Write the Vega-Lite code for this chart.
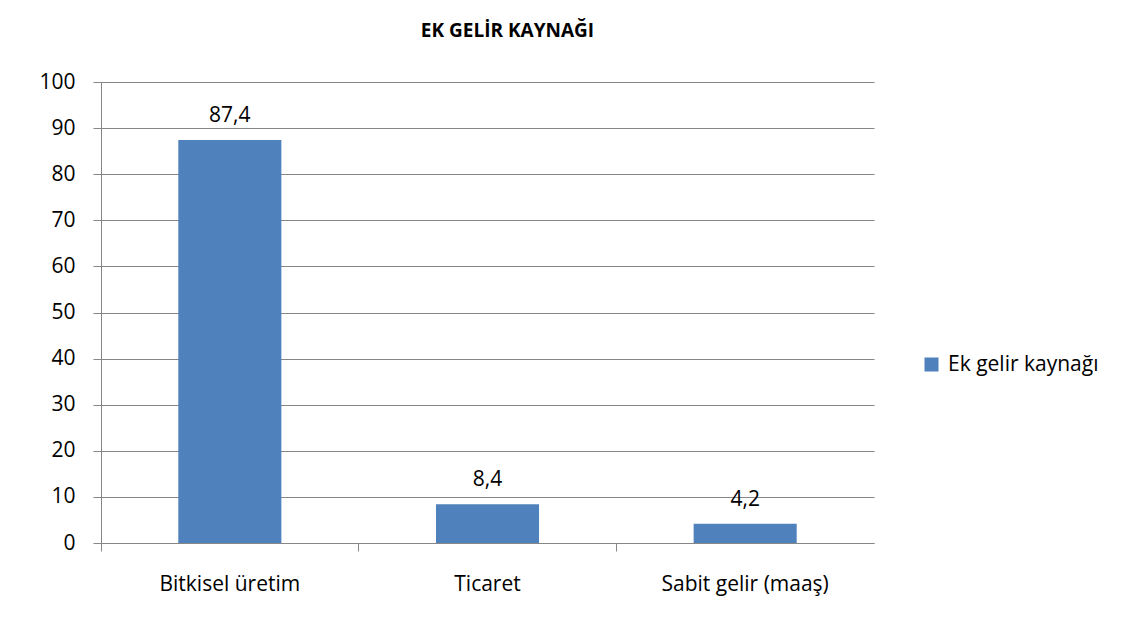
{
  "$schema": "https://vega.github.io/schema/vega-lite/v6.json",
  "width": 773,
  "height": 461,
  "autosize": {"type": "none"},
  "padding": {"left": 101, "top": 82, "right": 262, "bottom": 89},
  "background": "white",
  "title": {
    "text": "EK GELİR KAYNAĞI",
    "font": "Open Sans",
    "fontSize": 19,
    "fontWeight": "bold",
    "color": "#000000",
    "anchor": "middle",
    "dx": 20,
    "offset": 30
  },
  "data": {
    "values": [
      {"kaynak": "Bitkisel üretim", "deger": 87.4, "etiket": "87,4", "seri": "Ek gelir kaynağı"},
      {"kaynak": "Ticaret", "deger": 8.4, "etiket": "8,4", "seri": "Ek gelir kaynağı"},
      {"kaynak": "Sabit gelir (maaş)", "deger": 4.2, "etiket": "4,2", "seri": "Ek gelir kaynağı"}
    ]
  },
  "encoding": {
    "x": {
      "field": "kaynak",
      "type": "nominal",
      "sort": null,
      "scale": {"paddingInner": 0.6, "paddingOuter": 0.3},
      "axis": {
        "title": null,
        "labelAngle": 0,
        "labelFont": "Open Sans",
        "labelFontSize": 21,
        "labelColor": "#000000",
        "labelPadding": 22,
        "bandPosition": -0.75,
        "labelAlign": "center",
        "tickSize": 8,
        "tickColor": "#868686",
        "domainColor": "#868686",
        "grid": false
      }
    },
    "y": {
      "field": "deger",
      "type": "quantitative",
      "scale": {"domain": [0, 100], "nice": false},
      "axis": {
        "title": null,
        "values": [0, 10, 20, 30, 40, 50, 60, 70, 80, 90, 100],
        "labelFont": "Open Sans",
        "labelFontSize": 21,
        "labelColor": "#000000",
        "labelPadding": 18,
        "tickSize": 8,
        "tickColor": "#868686",
        "domainColor": "#868686",
        "gridColor": "#868686",
        "gridWidth": 1
      }
    }
  },
  "layer": [
    {
      "mark": {"type": "bar", "color": "#4F81BD"},
      "encoding": {
        "color": {
          "field": "seri",
          "type": "nominal",
          "scale": {"range": ["#4F81BD"]},
          "legend": {
            "title": null,
            "orient": "none",
            "legendX": 820,
            "legendY": 272,
            "symbolType": "square",
            "symbolSize": 196,
            "symbolStrokeWidth": 0,
            "labelFont": "Open Sans",
            "labelFontSize": 21,
            "labelColor": "#000000",
            "labelOffset": 6
          }
        }
      }
    },
    {
      "mark": {"type": "text", "baseline": "alphabetic", "dy": -18, "font": "Open Sans", "fontSize": 21, "color": "#000000"},
      "encoding": {"text": {"field": "etiket"}}
    }
  ],
  "config": {
    "view": {"stroke": null}
  }
}
